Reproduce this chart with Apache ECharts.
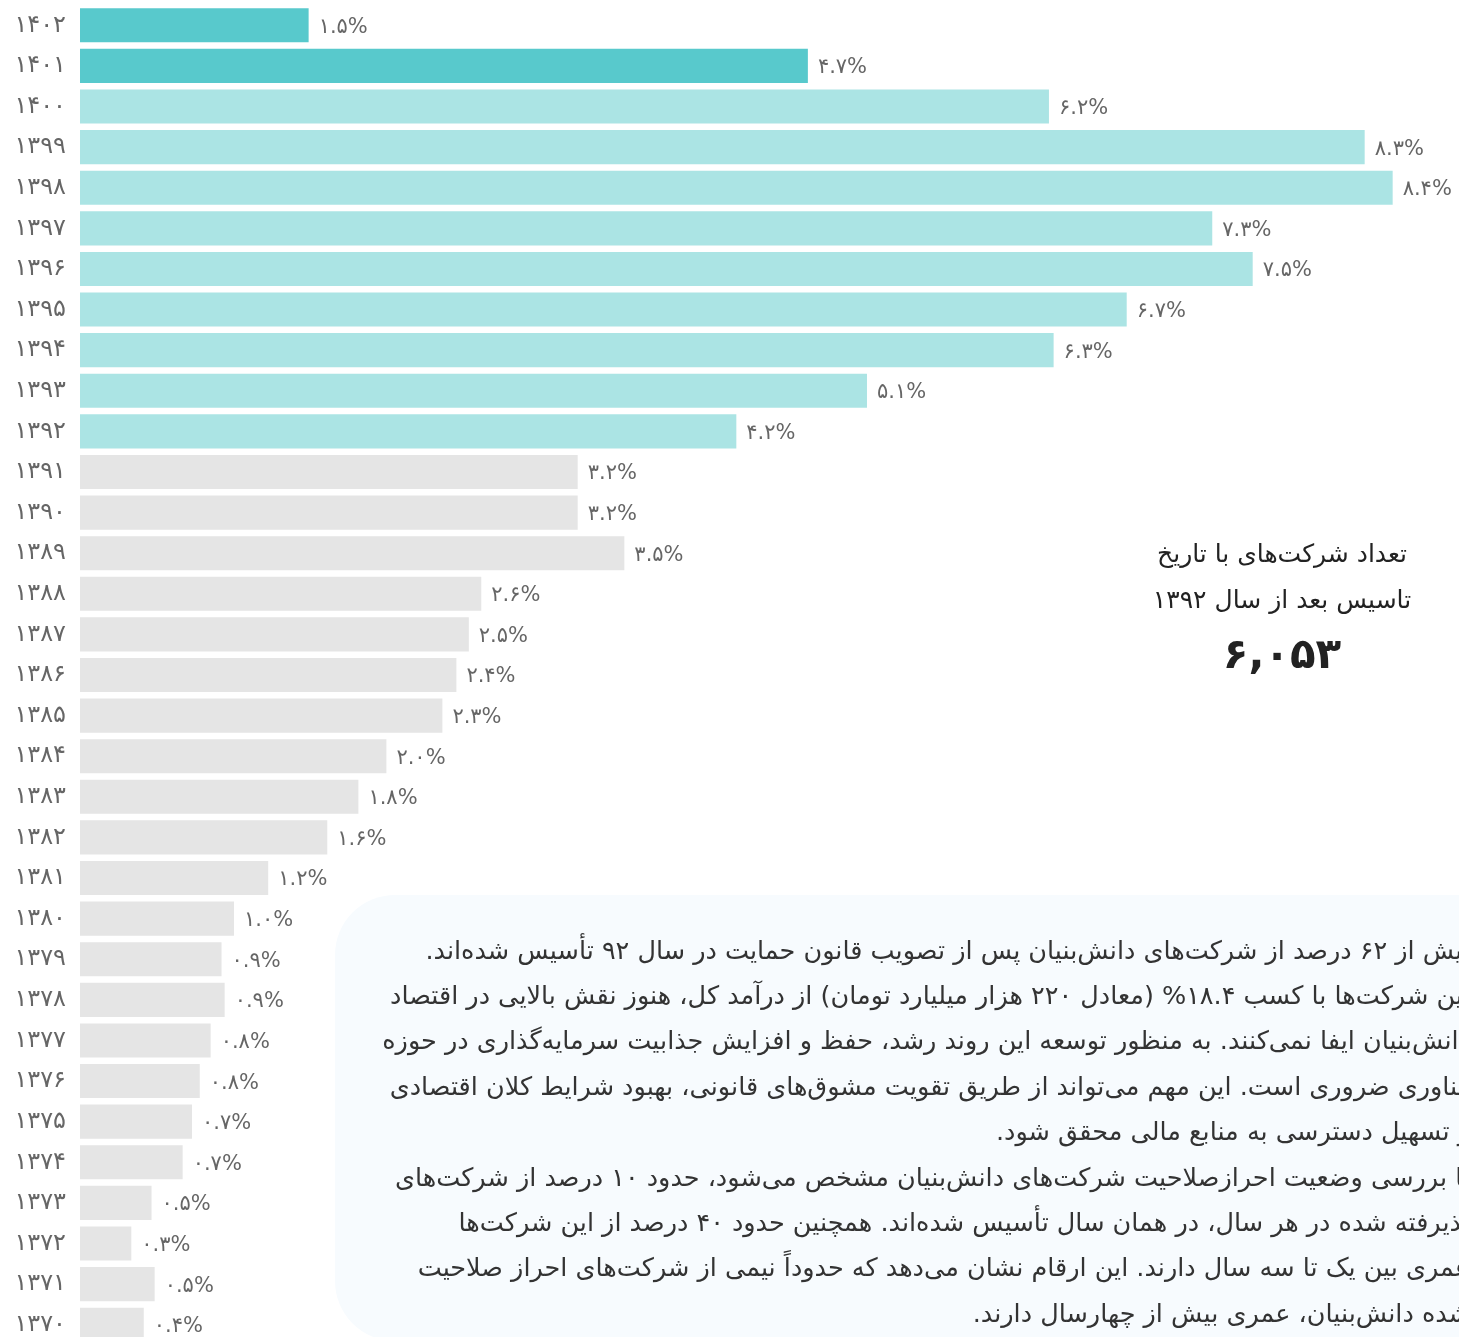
<!DOCTYPE html>
<html>
<head>
<meta charset="utf-8">
<script src="https://cdn.jsdelivr.net/npm/echarts@6/dist/echarts.min.js"></script>
<style>
  html, body { margin: 0; padding: 0; background: #fff; }
  #chart { width: 1459px; height: 1337px; }
</style>
</head>
<body>
<div id="chart"></div>
<script>
  // سال‌های تاسیس (از پایین به بالا)
  const years = ['۱۳۷۰', '۱۳۷۱', '۱۳۷۲', '۱۳۷۳', '۱۳۷۴', '۱۳۷۵', '۱۳۷۶', '۱۳۷۷', '۱۳۷۸', '۱۳۷۹',
    '۱۳۸۰', '۱۳۸۱', '۱۳۸۲', '۱۳۸۳', '۱۳۸۴', '۱۳۸۵', '۱۳۸۶', '۱۳۸۷', '۱۳۸۸', '۱۳۸۹',
    '۱۳۹۰', '۱۳۹۱', '۱۳۹۲', '۱۳۹۳', '۱۳۹۴', '۱۳۹۵', '۱۳۹۶', '۱۳۹۷', '۱۳۹۸', '۱۳۹۹',
    '۱۴۰۰', '۱۴۰۱', '۱۴۰۲']
  // سهم هر سال (درصد)
  const shares = [0.41, 0.48, 0.33, 0.46, 0.66, 0.72, 0.77, 0.84, 0.93, 0.91,
    0.99, 1.21, 1.59, 1.79, 1.97, 2.33, 2.42, 2.50, 2.58, 3.50,
    3.20, 3.20, 4.22, 5.06, 6.26, 6.73, 7.54, 7.28, 8.44, 8.26,
    6.23, 4.68, 1.47]
  const recentYears = ['۱۴۰۱', '۱۴۰۲']
  const afterLawStart = 22 // index of ۱۳۹۲

  const titleLines = ['تعداد شرکت‌های با تاریخ', 'تاسیس بعد از سال ۱۳۹۲']
  const totalCount = '۶,۰۵۳'

  const noteLines = [
    'بیش از ۶۲ درصد از شرکت‌های دانش‌بنیان پس از تصویب قانون حمایت در سال ۹۲ تأسیس شده‌اند.',
    'این شرکت‌ها با کسب ۱۸.۴% (معادل ۲۲۰ هزار میلیارد تومان) از درآمد کل، هنوز نقش بالایی در اقتصاد',
    'دانش‌بنیان ایفا نمی‌کنند. به منظور توسعه این روند رشد، حفظ و افزایش جذابیت سرمایه‌گذاری در حوزه',
    'فناوری ضروری است. این مهم می‌تواند از طریق تقویت مشوق‌های قانونی، بهبود شرایط کلان اقتصادی',
    'و تسهیل دسترسی به منابع مالی محقق شود.',
    'با بررسی وضعیت احرازصلاحیت شرکت‌های دانش‌بنیان مشخص می‌شود، حدود ۱۰ درصد از شرکت‌های',
    'پذیرفته شده در هر سال، در همان سال تأسیس شده‌اند. همچنین حدود ۴۰ درصد از این شرکت‌ها',
    'عمری بین یک تا سه سال دارند. این ارقام نشان می‌دهد که حدوداً نیمی از شرکت‌های احراز صلاحیت',
    'شده دانش‌بنیان، عمری بیش از چهارسال دارند.'
  ]

  const faDigits = '۰۱۲۳۴۵۶۷۸۹'
  const toFa = s => String(s).replace(/\d/g, d => faDigits[d])
  const persianFont = "'DejaVu Sans', sans-serif"

  const barColor = i => {
    if (recentYears.includes(years[i])) return '#58C9CC'
    if (i >= afterLawStart) return '#ABE4E4'
    return '#E5E5E5'
  }

  const graphics = [
    {
      type: 'rect',
      shape: { x: 335, y: 895, width: 1300, height: 446, r: 60 },
      style: { fill: '#F7FBFE' },
      z: -10
    }
  ]
  titleLines.forEach((t, i) => {
    graphics.push({
      type: 'text', x: 1282, y: 555 + i * 46,
      style: { text: '\u200F' + t + '\u200F', align: 'center', verticalAlign: 'middle',
        fontSize: 25, fontFamily: persianFont, fill: '#222' }
    })
  })
  graphics.push({
    type: 'text', x: 1282, y: 657,
    style: { text: totalCount, align: 'center', verticalAlign: 'middle',
      fontSize: 42, fontWeight: 'bold', fontFamily: persianFont, fill: '#222' }
  })
  noteLines.forEach((t, i) => {
    graphics.push({
      type: 'text', x: 1470, y: 952 + i * 45.4,
      style: { text: '\u200F' + t + '\u200F', align: 'right', verticalAlign: 'middle',
        fontSize: 25.5, fontFamily: persianFont, fill: '#333' }
    })
  })

  const chart = echarts.init(document.getElementById('chart'))
  chart.setOption({
    animation: false,
    grid: { left: 80, right: 57, top: 5, bottom: -8, outerBoundsMode: 'none' },
    xAxis: { type: 'value', min: 0, max: 8.5, show: false },
    yAxis: {
      type: 'category',
      data: years,
      axisLine: { show: false },
      axisTick: { show: false },
      axisLabel: { color: '#666', fontSize: 24, margin: 14, fontFamily: persianFont }
    },
    series: [{
      type: 'bar',
      barCategoryGap: '16%',
      data: shares.map((v, i) => ({ value: v, itemStyle: { color: barColor(i) } })),
      label: {
        show: true,
        position: 'right',
        distance: 10,
        offset: [0, 2],
        color: '#666',
        fontSize: 21,
        fontFamily: persianFont,
        formatter: p => toFa(p.value.toFixed(1)) + '%'
      }
    }],
    graphic: graphics
  })
</script>
</body>
</html>
